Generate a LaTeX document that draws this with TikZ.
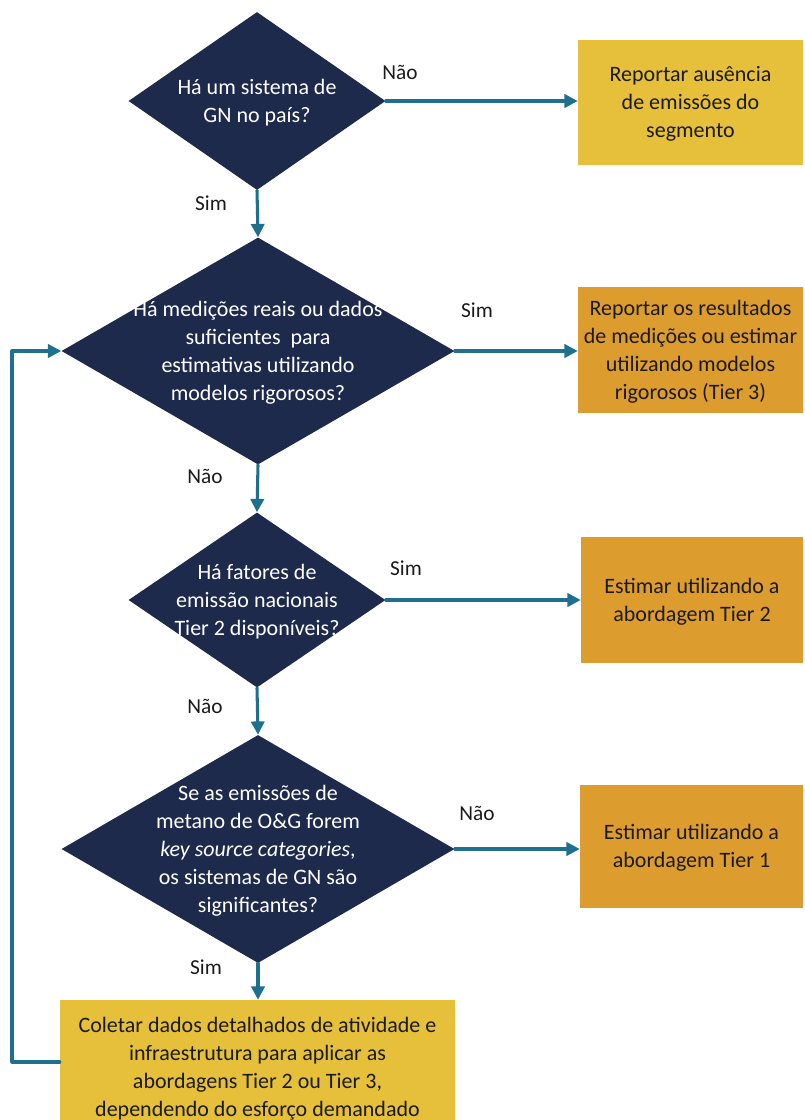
\documentclass[tikz,border=0pt]{standalone}
\usepackage{fontspec}
\setmainfont{Carlito}
\usepackage{xcolor}
\usepackage{tikz}
\usetikzlibrary{shapes.geometric,arrows.meta,positioning}
\definecolor{navy}{HTML}{1E2A4C}
\definecolor{flow}{HTML}{1F6F8E}
\definecolor{gold}{HTML}{E6C03A}
\definecolor{amber}{HTML}{DD9C2E}
\definecolor{ink}{HTML}{1A1A1A}
\tikzset{
  Decision/.style={
    diamond, fill=navy, inner sep=0pt, text=white
  },
  ResultBox/.style={
    rectangle, inner sep=0pt, text=ink
  },
  Flow/.style={
    draw=flow, line width=2.3pt,
    -{Triangle[length=10pt,width=10pt]}
  },
  Answer/.style={
    text=ink, font=\fontsize{16}{19}\selectfont
  }
}
\newcommand{\FlowText}[1]{%
  % centred lines with no size of their own
  \makebox[0pt]{\smash{\fontsize{16.5}{21}\selectfont\raisebox{-0.33em}{\begin{tabular}{@{}c@{}}#1\end{tabular}}}}%
}

\begin{document}
\begin{tikzpicture}[x=0.75pt, y=-0.75pt, line cap=round, line join=round]
  \useasboundingbox (0,0) rectangle (805,1120);
  % questions
  \node[Decision, minimum width=192.75pt, minimum height=133.5pt] (q1) at (257,101)
    {\FlowText{Há um sistema de\\GN no país?}};
  \node[Decision, minimum width=294.75pt, minimum height=170.25pt] (q2) at (258,351)
    {\FlowText{Há medições reais ou dados\\suficientes\ \ para\\estimativas utilizando\\modelos rigorosos?}};
  \node[Decision, minimum width=192.75pt, minimum height=131.25pt] (q3) at (257,600)
    {\FlowText{Há fatores de\\emissão nacionais\\Tier 2 disponíveis?}};
  \node[Decision, minimum width=294.75pt, minimum height=171pt] (q4) at (258,849)
    {\FlowText{Se as emissões de\\metano de O\&G forem\\\textit{key source categories},\\os sistemas de GN são\\significantes?}};

  % results
  \node[ResultBox, fill=gold, minimum width=168.75pt, minimum height=93.75pt] (r1) at (690.5,102.5)
    {\FlowText{Reportar ausência\\de emissões do\\segmento}};
  \node[ResultBox, fill=amber, minimum width=168.75pt, minimum height=94.5pt] (r2) at (690.5,350)
    {\FlowText{Reportar os resultados\\de medições ou estimar\\utilizando modelos\\rigorosos (Tier 3)}};
  \node[ResultBox, fill=amber, minimum width=166.5pt, minimum height=94.5pt] (r3) at (692,600)
    {\FlowText{Estimar utilizando a\\abordagem Tier 2}};
  \node[ResultBox, fill=amber, minimum width=167.25pt, minimum height=92.25pt] (r4) at (691.5,846.5)
    {\FlowText{Estimar utilizando a\\abordagem Tier 1}};
  \node[ResultBox, fill=gold, minimum width=296.25pt, minimum height=100.5pt] (r5) at (257.5,1067)
    {\FlowText{Coletar dados detalhados de atividade e\\infraestrutura para aplicar as\\abordagens Tier 2 ou Tier 3,\\dependendo do esforço demandado}};

  % connectors
  \draw[Flow] (q1.east) -- (r1.west |- q1.east);
  \draw[Flow] (q1.south) -- (q2.north);
  \draw[Flow] (q2.east) -- (r2.west |- q2.east);
  \draw[Flow] (q2.south) -- (q3.north);
  \draw[Flow] (q3.east) -- (r3.west |- q3.east);
  \draw[Flow] (q3.south) -- (q4.north);
  \draw[Flow] (q4.east) -- (r4.west |- q4.east);
  \draw[Flow] (q4.south) -- (r5.north -| q4.south);
  % back to the second question
  \coordinate (loop) at (12,1062);
  \draw[Flow] (r5.west |- loop) -- (loop) |- (q2.west);

  % answers
  \node[Answer] (a1) at (400,72) {Não};
  \node[Answer] (a2) at (211,203) {Sim};
  \node[Answer] (a3) at (477,310) {Sim};
  \node[Answer] (a4) at (205,476) {Não};
  \node[Answer] (a5) at (406,568) {Sim};
  \node[Answer] (a6) at (205,706) {Não};
  \node[Answer] (a7) at (477,813) {Não};
  \node[Answer] (a8) at (206,967) {Sim};
\end{tikzpicture}
\end{document}
